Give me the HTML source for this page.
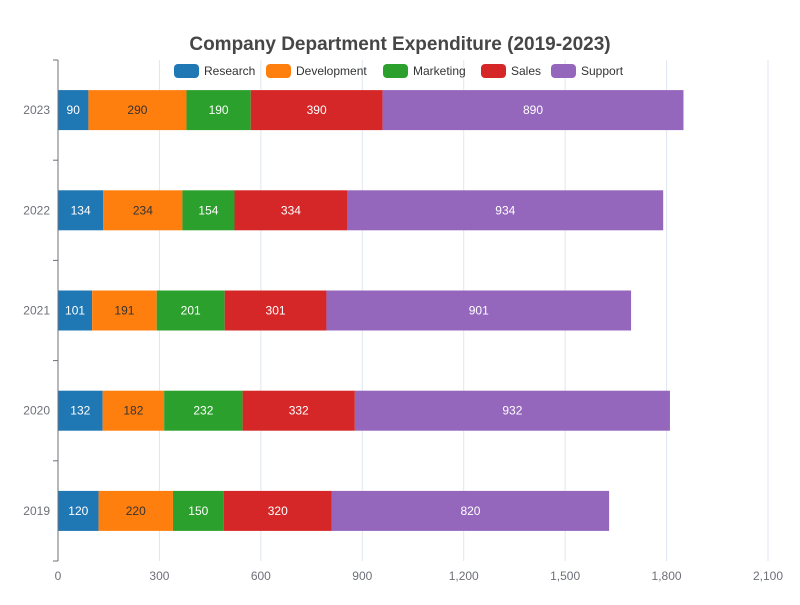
<!DOCTYPE html>
<html><head><meta charset="utf-8"><style>
body{margin:0;background:#fff;font-family:"Liberation Sans",sans-serif}
svg text{font-family:"Liberation Sans",sans-serif}
</style></head><body>
<svg id="c" width="800" height="600">
<text x="400" y="50" text-anchor="middle" font-size="19" font-weight="bold" fill="#464646">Company Department Expenditure (2019-2023)</text>
<g id="grid"></g><g id="bars"></g><g id="axes"></g><g id="legend"></g>
</svg>
<script>
const categories=["2019","2020","2021","2022","2023"];
const seriesNames=["Research","Development","Marketing","Sales","Support"];
const research=[120,132,101,134,90];
const development=[220,182,191,234,290];
const marketing=[150,232,201,154,190];
const sales=[320,332,301,334,390];
const support=[820,932,901,934,890];
const xTicks=[0,300,600,900,1200,1500,1800,2100];
const xTickLabels=["0","300","600","900","1,200","1,500","1,800","2,100"];
const colors=["#1f77b4","#ff7f0e","#2ca02c","#d62728","#9467bd"];
const labelColors=["#fff","#333","#fff","#fff","#fff"];
const data=[research,development,marketing,sales,support];
const NS="http://www.w3.org/2000/svg";
const L=58,R=768,T=60,B=561,xMax=2100;
const x=v=>L+v/xMax*(R-L);
const band=(B-T)/categories.length;
const yc=i=>B-band*(i+0.5);
function mk(t,a,p){const e=document.createElementNS(NS,t);for(const k in a)e.setAttribute(k,a[k]);p.appendChild(e);return e;}
const g=document.getElementById('grid'),bg=document.getElementById('bars'),ax=document.getElementById('axes'),lg=document.getElementById('legend');
xTicks.forEach((v,i)=>{
 const l=mk('line',{x1:x(v),x2:x(v),y1:T,y2:B,stroke:'#e0e6f1'},g);
 
 
 const t=mk('text',{x:x(v),y:B+19,'text-anchor':'middle','font-size':12,fill:'#6e7079'},ax);
 t.textContent=xTickLabels[i];
 
 
});
const yl=mk('line',{x1:L,x2:L,y1:T,y2:B,stroke:'#6e7079'},ax);


for(let i=0;i<=categories.length;i++){
 const yy=B-band*i;
 const tk=mk('line',{x1:L-5,x2:L,y1:yy,y2:yy,stroke:'#6e7079'},ax);
 
 
}
categories.forEach((c,i)=>{
 const t=mk('text',{x:L-8,y:yc(i)+4,'text-anchor':'end','font-size':12,fill:'#6e7079'},ax);
 t.textContent=c;
 
 
 let acc=0;
 data.forEach((s,j)=>{
  const v=s[i];
  const r=mk('rect',{x:x(acc),y:yc(i)-20,width:x(acc+v)-x(acc),height:40,fill:colors[j]},bg);
  
  
  const lt=mk('text',{x:(x(acc)+x(acc+v))/2,y:yc(i)+4,'text-anchor':'middle','font-size':12,fill:labelColors[j]},bg);
  lt.textContent=v;
  
  
  acc+=v;
 });
});
const lx=[174,266,383,481,551];
seriesNames.forEach((n,j)=>{
 const r=mk('rect',{x:lx[j],y:64,width:25,height:14,rx:4,fill:colors[j]},lg);
 
 
 const t=mk('text',{x:lx[j]+30,y:75,'font-size':12,fill:'#333'},lg);
 t.textContent=n;
 
 
});
</script>
</body></html>
